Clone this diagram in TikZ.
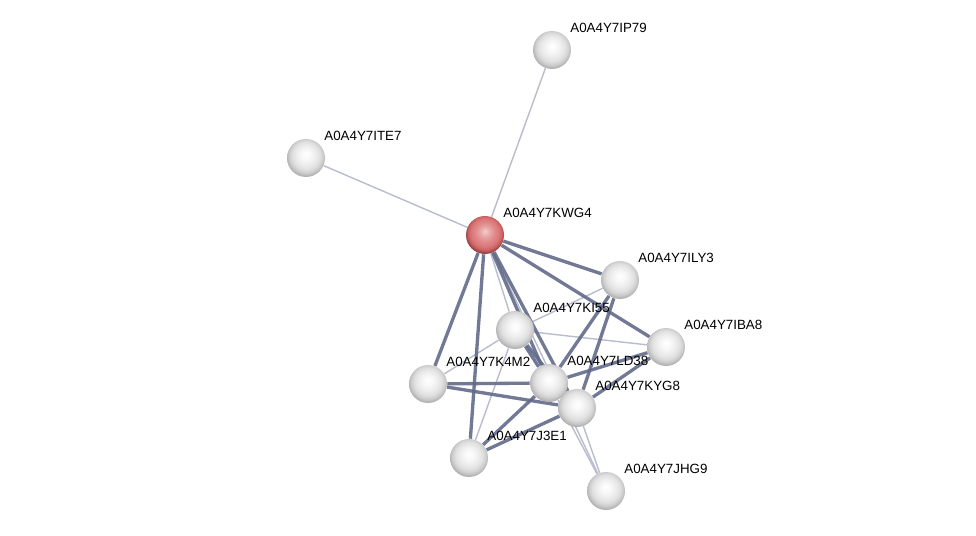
\documentclass[tikz,border=0pt]{standalone}
\usepackage{fontspec}
\setmainfont{Liberation Sans}
\usetikzlibrary{shapes,arrows,backgrounds}
\definecolor{edgedark}{RGB}{98,106,138}
\definecolor{edgelight}{RGB}{184,188,206}
\definecolor{qred}{RGB}{214,96,98}
\pgfdeclareradialshading{greyball}{\pgfpoint{0bp}{5bp}}{color(0bp)=(white); color(6bp)=(gray!5); color(13bp)=(gray!15); color(18bp)=(gray!24); color(22bp)=(gray!38); color(26bp)=(gray!60); color(30bp)=(gray!72); color(50bp)=(gray!72)}
\pgfdeclareradialshading{redball}{\pgfpoint{0bp}{5bp}}{color(0bp)=(qred!30!white); color(6bp)=(qred!55!white); color(13bp)=(qred!75!white); color(18bp)=(qred!85!white); color(22bp)=(qred!90!gray); color(26bp)=(qred!70!black); color(30bp)=(qred!55!black); color(50bp)=(qred!55!black)}

\begin{document}
\begin{tikzpicture}[x=0.02cm,y=-0.02cm]
\tikzstyle{prot}=[circle,minimum size=38*0.02cm,inner sep=0pt,shading=greyball]
\tikzstyle{query}=[prot,shading=redball]
\tikzstyle{lbl}=[anchor=west,inner sep=0pt,font=\fontsize{7.6}{9}\selectfont]
\tikzstyle{strong}=[draw=edgedark,line width=1.9pt,opacity=.9]
\tikzstyle{weak}=[draw=edgelight,line width=.8pt]
\useasboundingbox (0,0) rectangle (976,536);
% proteins
\node[prot] (ip79) at (552,50) {};
\node[prot] (ite7) at (306,158) {};
\node[query] (kwg4) at (485,235) {};
\node[prot] (ily3) at (620,280) {};
\node[prot] (ki55) at (515,330) {};
\node[prot] (iba8) at (666,347) {};
\node[prot] (k4m2) at (428,384) {};
\node[prot] (ld38) at (549,383) {};
\node[prot] (kyg8) at (577,408) {};
\node[prot] (j3e1) at (469,458) {};
\node[prot] (jhg9) at (606,491) {};
% edges
\begin{scope}[on background layer]
\draw[weak] (kwg4) -- (ip79);
\draw[weak] (kwg4) -- (ite7);
\draw[weak] (kwg4) -- (ki55);
\draw[weak] (kwg4) -- (jhg9);
\draw[weak] (ki55) -- (ily3);
\draw[weak] (ki55) -- (iba8);
\draw[weak] (ki55) -- (k4m2);
\draw[weak] (ki55) -- (j3e1);
\draw[weak] (ld38) -- (jhg9);
\draw[weak] (kyg8) -- (jhg9);
\draw[strong] (kwg4) -- (ily3);
\draw[strong] (kwg4) -- (iba8);
\draw[strong] (kwg4) -- (k4m2);
\draw[strong] (kwg4) -- (j3e1);
\draw[strong] (kwg4) -- (ld38);
\draw[strong] (kwg4) -- (kyg8);
\draw[strong] (ki55) -- (ld38);
\draw[strong] (ki55) -- (kyg8);
\draw[strong] (k4m2) -- (ld38);
\draw[strong] (k4m2) -- (kyg8);
\draw[strong] (j3e1) -- (ld38);
\draw[strong] (j3e1) -- (kyg8);
\draw[strong] (ily3) -- (ld38);
\draw[strong] (ily3) -- (kyg8);
\draw[strong] (iba8) -- (ld38);
\draw[strong] (iba8) -- (kyg8);
\draw[strong] (ld38) -- (kyg8);
\end{scope}
% labels
\node[lbl] (ip79l) at ([shift={(18,-22)}]ip79) {A0A4Y7IP79};
\node[lbl] (ite7l) at ([shift={(18,-22)}]ite7) {A0A4Y7ITE7};
\node[lbl] (kwg4l) at ([shift={(18,-22)}]kwg4) {A0A4Y7KWG4};
\node[lbl] (ily3l) at ([shift={(18,-22)}]ily3) {A0A4Y7ILY3};
\node[lbl] (ki55l) at ([shift={(18,-22)}]ki55) {A0A4Y7KI55};
\node[lbl] (iba8l) at ([shift={(18,-22)}]iba8) {A0A4Y7IBA8};
\node[lbl] (k4m2l) at ([shift={(18,-22)}]k4m2) {A0A4Y7K4M2};
\node[lbl] (ld38l) at ([shift={(18,-22)}]ld38) {A0A4Y7LD38};
\node[lbl] (kyg8l) at ([shift={(18,-22)}]kyg8) {A0A4Y7KYG8};
\node[lbl] (j3e1l) at ([shift={(18,-22)}]j3e1) {A0A4Y7J3E1};
\node[lbl] (jhg9l) at ([shift={(18,-22)}]jhg9) {A0A4Y7JHG9};
\end{tikzpicture}
\end{document}
